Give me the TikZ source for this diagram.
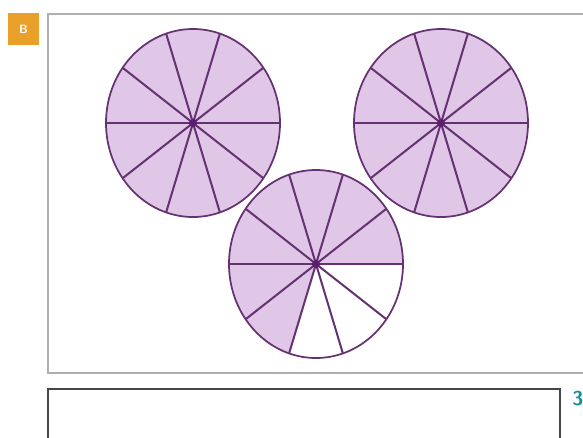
\documentclass[tikz,border=0pt]{standalone}
\usetikzlibrary{calc}
\definecolor{piefill}{RGB}{224,198,231}
\definecolor{pieline}{RGB}{100,50,112}
\definecolor{piedot}{RGB}{90,30,110}
\definecolor{framegray}{RGB}{175,175,175}
\definecolor{boxgray}{RGB}{70,70,70}
\definecolor{tagorange}{RGB}{232,160,40}
\definecolor{tealnum}{RGB}{20,140,160}
\tikzset{
  spoke/.style={draw=pieline, line width=1.5pt},
  rim/.style={draw=pieline, line width=1.3pt},
  framebox/.style={draw=framegray, line width=0.9pt},
  answerbox/.style={draw=boxgray, line width=1.2pt},
}
\newcommand{\piechart}[3]{%
  % #1 centre name, #2 start angle of shading, #3 end angle of shading
  \fill[piefill] (#1) -- ++(#2:87 and 94) arc[start angle=#2, end angle=#3, x radius=87, y radius=94] -- cycle;
  \draw[rim] (#1) ellipse[x radius=87, y radius=94];
  \foreach \a in {0,36,...,324} { \draw[spoke] (#1) -- ++(\a:87 and 94); }
  \fill[piedot] (#1) circle[radius=4];
}
\begin{document}
\begin{tikzpicture}[x=0.75pt,y=-0.75pt]
\useasboundingbox (0,0) rectangle (583,437);
\fill[white] (0,0) rectangle (583,437);
% tag
\node[fill=tagorange, minimum width=23pt, minimum height=24pt, inner sep=0pt, anchor=north west, text=white, font=\sffamily\bfseries\small] (tag) at (8,13) {B};
% outer frame
\draw[framebox] (594,14) -- (48,14) -- (48,373) -- (594,373);
% answer box
\draw[answerbox] (48,450) -- (48,389) -- (560,389) -- (560,450);
\node[text=tealnum, font=\sffamily\bfseries\fontsize{15}{15}\selectfont, anchor=north west, inner sep=0pt] (num) at (572,391) {3};
% pies
\coordinate (p1) at (193,123);
\coordinate (p2) at (441,123);
\coordinate (p3) at (316,264);
\piechart{p1}{0}{360}
\piechart{p2}{0}{360}
\fill[white] (p3) ellipse[x radius=87, y radius=94];
\piechart{p3}{108}{360}
\end{tikzpicture}
\end{document}
